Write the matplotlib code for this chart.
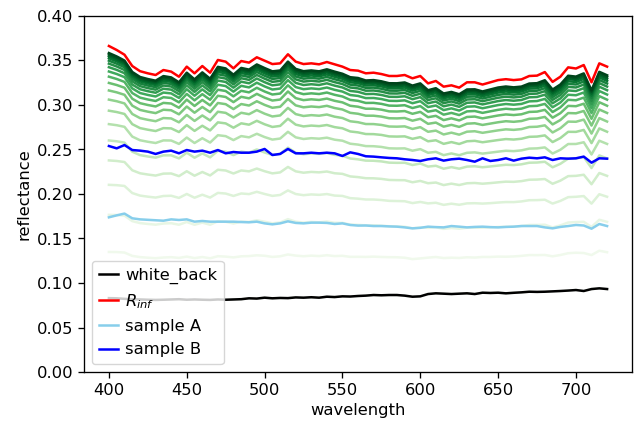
"""Kubelka-Munk reflectance: layers of increasing thickness over the white backing."""
import numpy as np
import matplotlib
matplotlib.use('Agg')
import matplotlib.pyplot as plt

plt.rcParams['font.family'] = ['DejaVu Sans']
plt.rcParams['font.size'] = 11.8
plt.rcParams['axes.linewidth'] = 0.95
plt.rcParams['xtick.major.size'] = 4.1
plt.rcParams['ytick.major.size'] = 4.1
plt.rcParams['xtick.major.width'] = 0.95
plt.rcParams['ytick.major.width'] = 0.95

wavelength = np.arange(400, 721, 5)

white_back = [
    0.0830, 0.0828, 0.0822, 0.0818, 0.0815, 0.0812, 0.0810, 0.0812, 0.0815, 0.0818,
    0.0812, 0.0815, 0.0812, 0.0810, 0.0815, 0.0812, 0.0815, 0.0818, 0.0828, 0.0825,
    0.0835, 0.0828, 0.0832, 0.0830, 0.0838, 0.0835, 0.0840, 0.0835, 0.0846, 0.0842,
    0.0850, 0.0848, 0.0854, 0.0858, 0.0865, 0.0862, 0.0865, 0.0865, 0.0858, 0.0846,
    0.0850, 0.0876, 0.0884, 0.0880, 0.0876, 0.0880, 0.0884, 0.0876, 0.0891, 0.0888,
    0.0891, 0.0884, 0.0890, 0.0895, 0.0902, 0.0900, 0.0902, 0.0906, 0.0910, 0.0915,
    0.0921, 0.0910, 0.0932, 0.0940, 0.0932,
]

r_inf = [
    0.3663, 0.3618, 0.3565, 0.3438, 0.3380, 0.3356, 0.3337, 0.3393, 0.3375, 0.3318,
    0.3431, 0.3356, 0.3438, 0.3363, 0.3506, 0.3487, 0.3412, 0.3494, 0.3476, 0.3536,
    0.3498, 0.3460, 0.3468, 0.3570, 0.3487, 0.3460, 0.3468, 0.3457, 0.3483, 0.3457,
    0.3431, 0.3393, 0.3386, 0.3356, 0.3363, 0.3348, 0.3326, 0.3326, 0.3337, 0.3300,
    0.3326, 0.3243, 0.3270, 0.3206, 0.3221, 0.3195, 0.3255, 0.3255, 0.3230, 0.3255,
    0.3280, 0.3290, 0.3280, 0.3288, 0.3326, 0.3330, 0.3370, 0.3260, 0.3318, 0.3423,
    0.3410, 0.3449, 0.3255, 0.3468, 0.3431,
]

sample_a = [
    0.1738, 0.1760, 0.1780, 0.1727, 0.1715, 0.1710, 0.1705, 0.1700, 0.1715, 0.1708,
    0.1715, 0.1689, 0.1697, 0.1689, 0.1689, 0.1689, 0.1689, 0.1685, 0.1682, 0.1689,
    0.1670, 0.1659, 0.1670, 0.1693, 0.1675, 0.1670, 0.1678, 0.1678, 0.1675, 0.1663,
    0.1670, 0.1652, 0.1645, 0.1646, 0.1640, 0.1640, 0.1636, 0.1633, 0.1625, 0.1614,
    0.1620, 0.1633, 0.1628, 0.1625, 0.1640, 0.1633, 0.1625, 0.1630, 0.1633, 0.1628,
    0.1625, 0.1630, 0.1633, 0.1640, 0.1640, 0.1640, 0.1625, 0.1614, 0.1630, 0.1640,
    0.1652, 0.1646, 0.1610, 0.1663, 0.1640,
]

sample_b = [
    0.2539, 0.2513, 0.2550, 0.2494, 0.2487, 0.2476, 0.2450, 0.2476, 0.2487, 0.2457,
    0.2494, 0.2476, 0.2487, 0.2464, 0.2494, 0.2457, 0.2472, 0.2464, 0.2464, 0.2476,
    0.2506, 0.2438, 0.2450, 0.2506, 0.2457, 0.2457, 0.2464, 0.2457, 0.2464, 0.2457,
    0.2427, 0.2468, 0.2450, 0.2424, 0.2420, 0.2412, 0.2405, 0.2401, 0.2390, 0.2382,
    0.2371, 0.2390, 0.2401, 0.2375, 0.2390, 0.2397, 0.2382, 0.2363, 0.2401, 0.2371,
    0.2382, 0.2401, 0.2375, 0.2397, 0.2408, 0.2401, 0.2412, 0.2382, 0.2401, 0.2397,
    0.2401, 0.2420, 0.2352, 0.2401, 0.2397,
]

# simulated layer thicknesses, in units of the sample A thickness
layer_thickness = [0.0, 0.5, 1.0, 1.5, 2.0, 2.5, 3.0, 3.5, 4.0, 4.5,
                   5.0, 5.5, 6.0, 6.5, 7.0, 7.5, 8.0, 8.5, 9.0, 9.5]


def km_sx(r, rg, rinf):
    """scattering power S*X of a layer with reflectance r over background rg"""
    e = (rg - rinf) * (1 / rinf - r) / ((rinf - r) * (rg - 1 / rinf))
    return np.log(e) / (1 / rinf - rinf)


def km_reflectance(sx, rg, rinf):
    e = np.exp(sx * (1 / rinf - rinf))
    return ((rg - rinf) / rinf - rinf * (rg - 1 / rinf) * e) / ((rg - rinf) - (rg - 1 / rinf) * e)


def main():
    rg = np.array(white_back)
    rinf = np.array(r_inf)

    # S*X of sample A, and the same with K taken flat (S ~ 2R/(1-R)^2);
    # the two estimates are combined to damp reading noise in sample A
    sx_a = km_sx(np.array(sample_a), rg, rinf)
    s_rel = 2 * rinf / (1 - rinf) ** 2
    sx_k = s_rel * sx_a.mean() / s_rel.mean()
    s_unit = np.sqrt(sx_a * sx_k)

    fig = plt.figure(figsize=(6.35, 4.23), dpi=100)
    ax = fig.add_axes([84 / 635, 51 / 423, 548 / 635, 356 / 423])

    greens = plt.cm.Greens(np.linspace(0, 1, len(layer_thickness)))
    for t, c in zip(layer_thickness, greens):
        ax.plot(wavelength, km_reflectance(t * s_unit, rg, rinf), color=c, lw=1.8)

    ax.plot(wavelength, white_back, color='black', lw=1.8, label='white_back')
    ax.plot(wavelength, r_inf, color='red', lw=1.8, label='$R_{inf}$')
    ax.plot(wavelength, sample_a, color='skyblue', lw=1.8, label='sample A')
    ax.plot(wavelength, sample_b, color='blue', lw=1.8, label='sample B')

    ax.set_ylim(0, 0.4)
    ax.set_xlabel('wavelength')
    ax.set_ylabel('reflectance')
    ax.legend(loc='lower left', handlelength=1.2, handletextpad=0.4)

    fig.savefig('out.png', dpi=100)
    plt.close(fig)


if __name__ == '__main__':
    main()
